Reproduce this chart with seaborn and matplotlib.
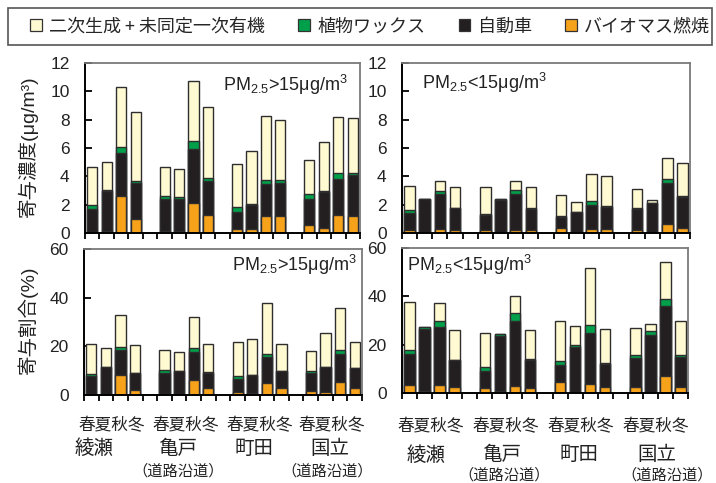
import numpy as np
import pandas as pd
import matplotlib
matplotlib.use("Agg")
import matplotlib.pyplot as plt
import seaborn as sns
from matplotlib.patches import Patch, Rectangle

# ---- categories ----
sites = ["綾瀬", "亀戸", "町田", "国立"]
seasons = ["春", "夏", "秋", "冬"]
roadside = [False, True, False, True]

# ---- contribution concentration (µg/m3), PM2.5 > 15 ----
conc_hi_bio = [0.07, 0.12, 2.60, 1.02, 0.12, 0.12, 2.15, 1.28, 0.31, 0.26, 1.20, 1.20, 0.57, 0.35, 1.28, 1.20]
conc_hi_car = [1.65, 2.86, 3.07, 2.48, 2.27, 2.27, 3.75, 2.41, 1.20, 1.70, 2.27, 2.34, 1.84, 2.53, 2.55, 2.86]
conc_hi_wax = [0.24, 0.04, 0.40, 0.19, 0.23, 0.14, 0.60, 0.18, 0.33, 0.12, 0.24, 0.17, 0.33, 0.05, 0.37, 0.17]
conc_hi_oth = [2.67, 2.01, 4.23, 4.86, 2.06, 1.98, 4.25, 4.99, 3.05, 3.73, 4.58, 4.27, 2.39, 3.47, 3.97, 3.90]

# ---- contribution concentration (µg/m3), PM2.5 < 15 ----
conc_lo_bio = [0.24, 0.02, 0.28, 0.21, 0.24, 0.00, 0.24, 0.24, 0.33, 0.00, 0.26, 0.31, 0.19, 0.00, 0.61, 0.33]
conc_lo_car = [1.18, 2.37, 2.44, 1.54, 1.04, 2.34, 2.52, 1.48, 0.80, 1.49, 1.70, 1.56, 1.49, 2.10, 2.89, 2.22]
conc_lo_wax = [0.19, 0.00, 0.26, 0.00, 0.09, 0.05, 0.31, 0.03, 0.05, 0.02, 0.33, 0.04, 0.12, 0.05, 0.33, 0.05]
conc_lo_oth = [1.70, 0.00, 0.68, 1.53, 1.87, 0.00, 0.62, 1.53, 1.49, 0.69, 1.87, 2.11, 1.29, 0.19, 1.44, 2.31]

# ---- contribution ratio (%), PM2.5 > 15 ----
pct_hi_bio = [0.3, 0.0, 8.1, 2.2, 0.4, 0.4, 6.0, 2.7, 1.4, 0.8, 5.1, 3.0, 1.8, 1.2, 5.3, 3.0]
pct_hi_car = [7.6, 11.5, 10.4, 6.7, 8.8, 9.6, 11.7, 6.5, 5.2, 7.3, 10.7, 6.7, 7.1, 10.3, 11.7, 8.2]
pct_hi_wax = [0.9, 0.0, 1.1, 0.3, 1.1, 0.0, 1.6, 0.1, 1.3, 0.1, 1.2, 0.2, 0.8, 0.1, 1.5, 0.0]
pct_hi_oth = [12.3, 7.7, 13.4, 11.5, 8.2, 7.8, 12.8, 11.8, 13.7, 15.0, 20.9, 10.9, 8.5, 14.0, 17.4, 10.4]

# ---- contribution ratio (%), PM2.5 < 15 ----
pct_lo_bio = [3.2, 0.7, 3.2, 2.3, 2.1, 0.7, 3.0, 2.1, 4.4, 0.4, 3.9, 2.3, 2.3, 0.0, 7.0, 2.3]
pct_lo_car = [12.8, 25.8, 24.1, 11.2, 7.1, 22.7, 26.9, 11.7, 7.3, 18.5, 20.8, 9.8, 12.3, 23.9, 28.9, 12.6]
pct_lo_wax = [1.8, 0.7, 2.6, 0.3, 1.4, 0.9, 3.3, 0.1, 1.7, 0.8, 3.4, 0.3, 1.0, 1.9, 3.0, 0.7]
pct_lo_oth = [19.9, 0.0, 7.3, 12.1, 14.2, 0.0, 6.8, 12.0, 16.5, 8.2, 23.6, 14.2, 11.4, 2.6, 15.3, 14.2]

# ---- styling ----
C_OTH = "#FFFAD2"
C_WAX = "#00A04A"
C_CAR = "#231F20"
C_BIO = "#F7A21B"
EDGE = "#2E2E2E"

W, H = 716, 483

sns.set_theme(style="ticks")
plt.rcParams["font.family"] = ["Liberation Sans", "Noto Sans CJK JP", "DejaVu Sans"]
plt.rcParams["mathtext.fontset"] = "custom"
plt.rcParams["mathtext.rm"] = "Liberation Sans"
plt.rcParams["mathtext.it"] = "Liberation Sans:italic"
plt.rcParams["mathtext.bf"] = "Liberation Sans:bold"
plt.rcParams["mathtext.default"] = "rm"


def fx(x):
    return x / W


def fy(y):
    return 1 - y / H


def axes_rect(x0, y0, x1, y1):
    return [fx(x0), fy(y1), (x1 - x0) / W, (y1 - y0) / H]


# slot order: four seasons per site, one empty slot between sites
order = []
for i, s in enumerate(sites):
    order += [f"{s}{q}" for q in seasons]
    if i < len(sites) - 1:
        order.append(f"_gap{i}")
slots = [f"{s}{q}" for s in sites for q in seasons]


def draw_panel(ax, bio, car, wax, oth, ymax, step):
    df = pd.DataFrame({"slot": slots, "bio": bio, "car": car, "wax": wax, "oth": oth})
    df["lvl1"] = df["bio"]
    df["lvl2"] = df["lvl1"] + df["car"]
    df["lvl3"] = df["lvl2"] + df["wax"]
    df["lvl4"] = df["lvl3"] + df["oth"]
    for col, color in [("lvl4", C_OTH), ("lvl3", C_WAX), ("lvl2", C_CAR), ("lvl1", C_BIO)]:
        sns.barplot(data=df, x="slot", y=col, order=order, color=color, saturation=1,
                    width=0.7, edgecolor=EDGE, linewidth=1.0, errorbar=None, ax=ax)
    ax.set_xlim(-0.5, len(order) - 0.5)
    ax.set_ylim(0, ymax)
    ax.set_yticks(np.arange(0, ymax + 0.01, step))
    ax.set_xticks(np.arange(-0.5, len(order), 1.0))
    ax.set_xticklabels([])
    ax.set_xlabel("")
    ax.set_ylabel("")
    ax.tick_params(axis="x", direction="out", length=4.5, width=1.3, color="black")
    ax.tick_params(axis="y", direction="in", length=5, width=1.3, color="black",
                   pad=11, labelsize=12.5, labelcolor="#222")
    for side in ["left", "bottom"]:
        ax.spines[side].set_color("black")
        ax.spines[side].set_linewidth(1.4)
    for side in ["top", "right"]:
        ax.spines[side].set_visible(True)
        ax.spines[side].set_color("#7a7a7a")
        ax.spines[side].set_linewidth(1.3)


fig = plt.figure(figsize=(W / 100, H / 100), dpi=100)

ax_tl = fig.add_axes(axes_rect(85, 63, 360, 233))
ax_tr = fig.add_axes(axes_rect(402, 63, 690, 233))
ax_bl = fig.add_axes(axes_rect(84, 249, 362, 395))
ax_br = fig.add_axes(axes_rect(402, 248, 688, 393))

draw_panel(ax_tl, conc_hi_bio, conc_hi_car, conc_hi_wax, conc_hi_oth, 12, 2)
draw_panel(ax_tr, conc_lo_bio, conc_lo_car, conc_lo_wax, conc_lo_oth, 12, 2)
draw_panel(ax_bl, pct_hi_bio, pct_hi_car, pct_hi_wax, pct_hi_oth, 60, 20)
draw_panel(ax_br, pct_lo_bio, pct_lo_car, pct_lo_wax, pct_lo_oth, 60, 20)

# PM2.5 class notes
note_hi = r"PM$_{2.5}$>15μg/m$^{3}$"
note_lo = r"PM$_{2.5}$<15μg/m$^{3}$"
fig.text(fx(348), fy(85), note_hi, ha="right", va="center", fontsize=13, color="#222")
fig.text(fx(422), fy(83), note_lo, ha="left", va="center", fontsize=13, color="#222")
fig.text(fx(357), fy(265), note_hi, ha="right", va="center", fontsize=13, color="#222")
fig.text(fx(407), fy(265), note_lo, ha="left", va="center", fontsize=13, color="#222")

# y-axis titles
fig.text(fx(28), fy(146), "寄与濃度(μg/m³)", rotation=90, ha="center", va="center",
         fontsize=14, color="#222")
fig.text(fx(28), fy(320), "寄与割合(%)", rotation=90, ha="center", va="center",
         fontsize=14, color="#222")

# season / site labels under the bottom panels
cjk = ["Noto Sans CJK JP", "DejaVu Sans"]
season_txt = "".join(seasons)
left_season_x = [112, 186, 260, 332]
left_site_x = [94, 178, 254, 330]
left_road_x = [178, 327]
right_season_x = [431, 506, 581, 656]
right_site_x = [426, 502, 579, 657]
right_road_x = [504, 667]

for x in left_season_x:
    fig.text(fx(x), fy(426), season_txt, ha="center", va="center", fontsize=12,
             family=cjk, color="#222")
for x in right_season_x:
    fig.text(fx(x), fy(427), season_txt, ha="center", va="center", fontsize=12,
             family=cjk, color="#222")
for x, s in zip(left_site_x, sites):
    fig.text(fx(x), fy(448), s, ha="center", va="center", fontsize=14, family=cjk, color="#222")
for x, s in zip(right_site_x, sites):
    fig.text(fx(x), fy(455), s, ha="center", va="center", fontsize=14, family=cjk, color="#222")
road_label = "（道路沿道）"
for x in left_road_x:
    fig.text(fx(x), fy(471), road_label, ha="center", va="center", fontsize=11,
             family=cjk, color="#222")
for x in right_road_x:
    fig.text(fx(x), fy(475), road_label, ha="center", va="center", fontsize=11,
             family=cjk, color="#222")

# legend
legend_labels = ["二次生成 + 未同定一次有機", "植物ワックス", "自動車", "バイオマス燃焼"]
legend_colors = [C_OTH, C_WAX, C_CAR, C_BIO]
handles = [Patch(facecolor=c, edgecolor="#333", linewidth=0.9) for c in legend_colors]
fig.add_artist(Rectangle((fx(8), fy(45)), (712 - 8) / W, (45 - 8) / H,
                         transform=fig.transFigure, fill=False, edgecolor="#555", linewidth=1.2))
fig.legend(handles, legend_labels, loc="center", mode="expand", ncol=4, frameon=False,
           bbox_to_anchor=(fx(30), fy(45), (710 - 30) / W, (45 - 8) / H),
           handlelength=0.65, handleheight=0.65, handletextpad=0.4,
           borderaxespad=0, borderpad=0, prop={"family": cjk, "size": 13})

fig.savefig("out.png", dpi=100)
